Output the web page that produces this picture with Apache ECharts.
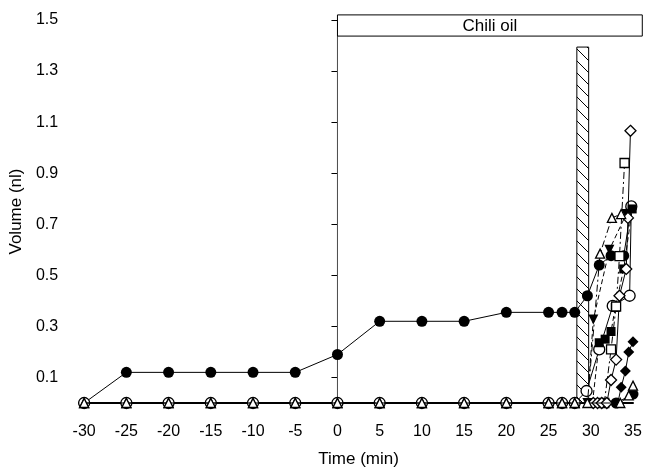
<!DOCTYPE html>
<html>
<head>
<meta charset="utf-8">
<script src="https://cdn.jsdelivr.net/npm/echarts@6/dist/echarts.min.js"></script>
<style>
html,body{margin:0;padding:0;background:#fff;}
#chart{width:645px;height:473px;}
</style>
</head>
<body>
<div id="chart"></div>
<script>
// ---- data ----
const xTicks = [-30,-25,-20,-15,-10,-5,0,5,10,15,20,25,30,35];
const yTickLabels = [0.1,0.3,0.5,0.7,0.9,1.1,1.3,1.5];
const chiliOilPeriod = [0, 36.1];
const chiliOilLabel = 'Chili oil';
const stimulusPeriod = [28.35, 29.75];
const stimulusHeight = 1.394;

const baselineTimes = [-30,-25,-20,-15,-10,-5,0,5,10,15,20,25,26.6,28.1];

const filledCircleA = [[-30,0],[-25,0.12],[-20,0.12],[-15,0.12],[-10,0.12],[-5,0.12],[0,0.19],[5,0.32],[10,0.32],[15,0.32],[20,0.355],[25,0.355],[26.6,0.355],[28.1,0.355],[29.6,0.42],[31.0,0.54],[32.4,0.577],[33.9,0.577],[34.8,0.765]];
const filledCircleB = [[33.0,0],[35,0.035]];
const filledTriDown = [[29.6,0],[30.3,0.327],[32.2,0.6],[34.2,0.74]];
const filledSquare = [[30.2,0],[31.0,0.236],[31.7,0.25],[32.4,0.28],[32.9,0.374],[33.9,0.525],[34.9,0.76]];
const filledDiamond = [[33.2,0],[33.6,0.062],[34.1,0.125],[34.5,0.2],[35,0.24]];
const openCircle = [[29.5,0.047],[31.0,0.21],[32.6,0.38],[34.6,0.42],[34.8,0.77]];
const openSquare = [[31.6,0],[32.4,0.21],[33.0,0.378],[33.4,0.575],[34.0,0.94]];
const openDiamond = [[30.3,0],[30.8,0],[31.3,0],[31.9,0],[32.4,0.09],[33.0,0.17],[33.4,0.42],[34.2,0.525],[34.4,0.725],[34.7,1.066]];
const openTriangleA = [[29.6,0],[31.1,0.585],[32.5,0.725],[33.6,0.74]];
const openTriangleB = [[33.5,0],[34.5,0.03],[35,0.068]];

// ---- build ----
const baseZeros = baselineTimes.map(t => [t, 0]);
const FONT = 'Liberation Sans, Arial, sans-serif';

const hatch = document.createElement('canvas');
hatch.width = 12; hatch.height = 12;
(function(){
  const c = hatch.getContext('2d');
  c.fillStyle = '#fff'; c.fillRect(0,0,12,12);
  c.strokeStyle = '#000'; c.lineWidth = 1;
  c.beginPath(); c.moveTo(-2,-2); c.lineTo(14,14); c.stroke();
  c.beginPath(); c.moveTo(-2,10); c.lineTo(2,14); c.stroke();
  c.beginPath(); c.moveTo(10,-2); c.lineTo(14,2); c.stroke();
})();

function lineSeries(name, data, symbol, filled, size, dash, rotate, z) {
  return {
    name: name, type: 'line', data: data, symbol: symbol, symbolSize: size,
    symbolRotate: rotate || 0, z: z || 3,
    clip: false,
    itemStyle: { color: filled ? '#000' : '#fff', borderColor: '#000', borderWidth: filled ? 0 : 1.3 },
    lineStyle: { color: '#000', width: 1, type: dash || 'solid' },
    emphasis: { disabled: true }, animation: false
  };
}
const dashDot = [7,3,2,3];

const chart = echarts.init(document.getElementById('chart'), null, {renderer:'canvas'});
chart.setOption({
  animation: false,
  backgroundColor: '#fff',
  grid: { left: 83, right: 12, top: 20, bottom: 69.4 },
  xAxis: {
    type: 'value', min: -30, max: 35, interval: 5,
    name: 'Time (min)', nameLocation: 'middle', nameGap: 48,
    nameTextStyle: { fontFamily: FONT, fontSize: 17, color: '#000' },
    axisLine: { lineStyle: { color: '#000', width: 2 } },
    axisTick: { show: false },
    axisLabel: { fontFamily: FONT, fontSize: 16, color: '#000', margin: 21,
      customValues: xTicks },
    splitLine: { show: false }
  },
  yAxis: {
    type: 'value', min: 0, max: 1.5,
    name: 'Volume (nl)', nameLocation: 'middle', nameGap: 52,
    nameTextStyle: { fontFamily: FONT, fontSize: 17, color: '#000' },
    axisLine: { show: true, lineStyle: { color: '#000', width: 1 } },
    axisTick: { show: true, length: 6, lineStyle: { color: '#000' }, customValues: yTickLabels },
    axisLabel: { fontFamily: FONT, fontSize: 16, color: '#000', margin: 26,
      customValues: yTickLabels, formatter: v => v.toFixed(1) },
    splitLine: { show: false }
  },
  series: [
    {
      type: 'custom', z: 1, clip: false, silent: true,
      data: [[chiliOilPeriod[0], chiliOilPeriod[1], stimulusPeriod[0], stimulusPeriod[1], stimulusHeight]],
      renderItem: function(params, api) {
        const x0 = api.value(0), x1 = api.value(1), s0 = api.value(2), s1 = api.value(3), sh = api.value(4);
        const bl = api.coord([x0, 1.437]);
        const tr = api.coord([x1, 1.52]);
        const vb = api.coord([x0, 0]);
        const hb = api.coord([s0, 0]);
        const ht = api.coord([s1, sh]);
        return {
          type: 'group',
          children: [
            { type: 'line', shape: { x1: vb[0], y1: vb[1], x2: bl[0], y2: bl[1] },
              style: { stroke: '#555', lineWidth: 1 } },
            { type: 'rect', shape: { x: bl[0], y: tr[1], width: tr[0]-bl[0], height: bl[1]-tr[1] },
              style: { fill: '#fff', stroke: '#000', lineWidth: 1 } },
            { type: 'text', style: { x: (bl[0]+tr[0])/2, y: (bl[1]+tr[1])/2 + 0.5, text: chiliOilLabel,
              fill: '#000', font: '17px ' + FONT, align: 'center', verticalAlign: 'middle' } },
            { type: 'rect', shape: { x: hb[0], y: ht[1], width: ht[0]-hb[0], height: hb[1]-ht[1] },
              style: { fill: { image: hatch, repeat: 'repeat' }, stroke: '#000', lineWidth: 1 } }
          ]
        };
      }
    },
    lineSeries('filledCircleB', baseZeros.concat(filledCircleB), 'circle', true, 11, 'solid', 0, 2),
    lineSeries('filledCircleA', filledCircleA, 'circle', true, 11, 'solid', 0, 3),
    lineSeries('openCircle', baseZeros.concat(openCircle), 'circle', false, 11, 'solid', 0, 3),
    lineSeries('filledTriDown', filledTriDown, 'triangle', true, 10, [5,3], 180, 3),
    lineSeries('filledSquare', filledSquare, 'rect', true, 9, [5,3], 0, 3),
    lineSeries('filledDiamond', filledDiamond, 'diamond', true, 11, 'solid', 0, 3),
    lineSeries('openSquare', openSquare, 'rect', false, 9, dashDot, 0, 4),
    lineSeries('openDiamond', openDiamond, 'diamond', false, 11, 'solid', 0, 4),
    lineSeries('openTriangleB', baseZeros.concat(openTriangleB), 'triangle', false, 9, 'solid', 0, 5),
    lineSeries('openTriangleA', baseZeros.concat(openTriangleA), 'triangle', false, 9, dashDot, 0, 5)
  ]
});
</script>
</body>
</html>
